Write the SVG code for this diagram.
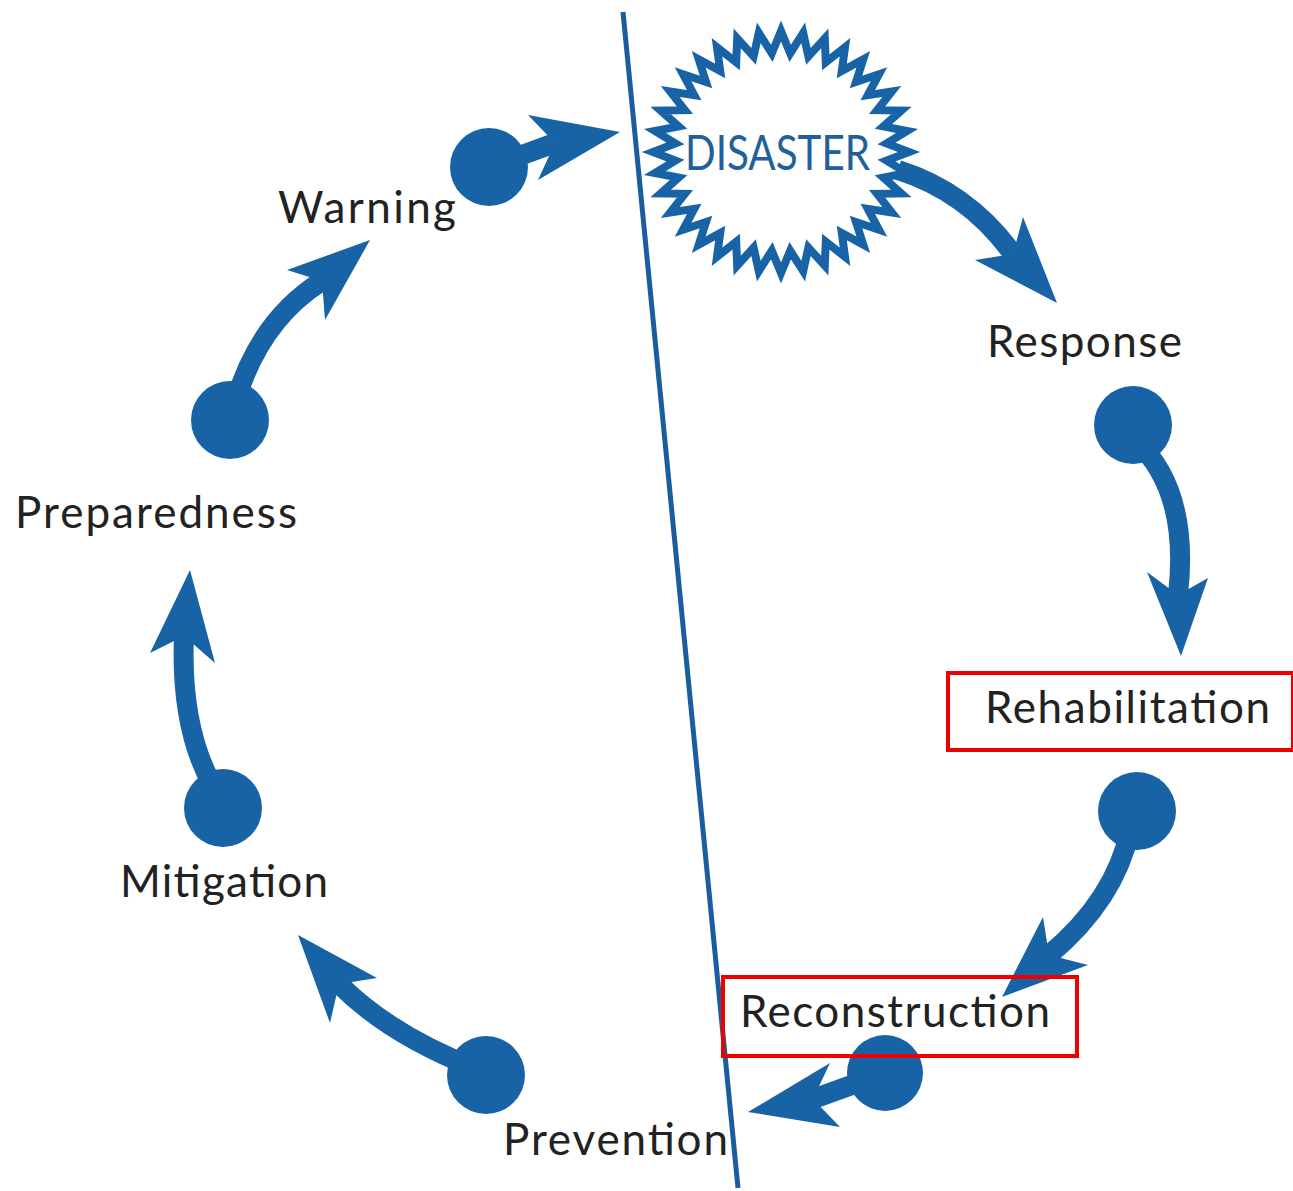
<svg xmlns="http://www.w3.org/2000/svg" width="1293" height="1191" viewBox="0 0 1293 1191">
<style>
.lbl{font-family:Lato,"Open Sans","Liberation Sans",sans-serif;font-size:44px;fill:#222;}
.shaft{fill:none;stroke:#1763a6;stroke-width:20;}
.head{fill:#1763a6;}
.dot{fill:#1763a6;}
.box{fill:none;stroke:#ee0000;stroke-width:4;}
</style>
<rect width="1293" height="1191" fill="#ffffff"/>
<line id="divider" x1="623" y1="12" x2="738" y2="1188" stroke="#1a5d9c" stroke-width="5"/>
<g id="disaster">
<polygon points="909,152 886.6,160.6 907.1,173 883.4,177.6 901.3,193.4 877.1,193.8 891.8,212.5 867.8,208.8 879,229.8 856,222 863.3,244.7 841.8,233.1 845,256.8 825.8,241.7 824.8,265.7 808.4,247.6 803.2,271.2 790.2,250.6 781,273 771.8,250.6 758.8,271.2 753.6,247.6 737.2,265.7 736.2,241.7 717,256.8 720.2,233.1 698.7,244.7 706,222 683,229.8 694.2,208.8 670.2,212.5 684.9,193.8 660.7,193.4 678.6,177.6 654.9,173 675.4,160.6 653,152 675.4,143.4 654.9,131 678.6,126.4 660.7,110.6 684.9,110.2 670.2,91.5 694.2,95.2 683,74.2 706,82 698.7,59.3 720.2,70.9 717,47.2 736.2,62.3 737.2,38.3 753.6,56.4 758.8,32.8 771.8,53.4 781,31 790.2,53.4 803.2,32.8 808.4,56.4 824.8,38.3 825.8,62.3 845,47.2 841.8,70.9 863.3,59.3 856,82 879,74.2 867.8,95.2 891.8,91.5 877.1,110.2 901.3,110.6 883.4,126.4 907.1,131 886.6,143.4" fill="#ffffff" stroke="#1763a6" stroke-width="8" stroke-linejoin="miter"/>
<text x="685" y="170" font-family="Lato,'Open Sans','Liberation Sans',sans-serif" font-size="48" fill="#22609c" textLength="185" lengthAdjust="spacingAndGlyphs">DISASTER</text>
</g>
<g id="connectors">
<!-- Warning -> Disaster -->
<line class="shaft" x1="489" y1="167" x2="555" y2="143"/>
<polygon class="head" points="620,132 528,115 555,143 538,180"/>
<circle class="dot" cx="489" cy="167" r="39"/>
<!-- Disaster -> Response -->
<path class="shaft" d="M 898 170 Q 968 192 1013 254"/>
<polygon class="head" points="1057,303 1023,217 1013,254 975,260"/>
<!-- Response -> Rehabilitation -->
<path class="shaft" d="M 1135 440 Q 1190 490 1178 595"/>
<polygon class="head" points="1181,656 1147,572 1178,595 1208,578"/>
<circle class="dot" cx="1133" cy="425" r="39"/>
<!-- Rehabilitation -> Reconstruction -->
<path class="shaft" d="M 1130 830 Q 1115 900 1049 955"/>
<polygon class="head" points="1002,997 1043,917 1049,955 1088,965"/>
<circle class="dot" cx="1137" cy="811" r="39"/>
<!-- Reconstruction -> Prevention -->
<line class="shaft" x1="885" y1="1073" x2="813" y2="1099"/>
<polygon class="head" points="748,1112 830,1063 813,1099 840,1127"/>
<circle class="dot" cx="885" cy="1073" r="38"/>
<!-- Prevention -> Mitigation -->
<path class="shaft" d="M 475 1068 Q 390 1035 339 984"/>
<polygon class="head" points="298,935 377,978 339,984 330,1023"/>
<circle class="dot" cx="486" cy="1075" r="39"/>
<!-- Mitigation -> Preparedness -->
<path class="shaft" d="M 215 790 Q 180 730 184 636"/>
<polygon class="head" points="190,570 215,663 184,636 150,653"/>
<circle class="dot" cx="223" cy="808" r="39"/>
<!-- Preparedness -> Warning -->
<path class="shaft" d="M 236 400 Q 260 320 322 281"/>
<polygon class="head" points="370,240 325,320 322,281 287,270"/>
<circle class="dot" cx="230" cy="420" r="39"/>
</g>
<g id="warning"><text class="lbl" x="278" y="223" textLength="178">Warning</text></g>
<g id="response"><text class="lbl" x="987" y="357" textLength="195">Response</text></g>
<g id="rehabilitation"><rect class="box" x="948" y="673" width="345" height="77"/><text class="lbl" x="985" y="723" textLength="285">Rehabilitation</text></g>
<g id="reconstruction"><rect class="box" x="723" y="977" width="354" height="79"/><text class="lbl" x="740" y="1027" textLength="310">Reconstruction</text></g>
<g id="prevention"><text class="lbl" x="503" y="1155" textLength="225">Prevention</text></g>
<g id="mitigation"><text class="lbl" x="120" y="897" textLength="208">Mitigation</text></g>
<g id="preparedness"><text class="lbl" x="15" y="528" textLength="282">Preparedness</text></g>
</svg>
